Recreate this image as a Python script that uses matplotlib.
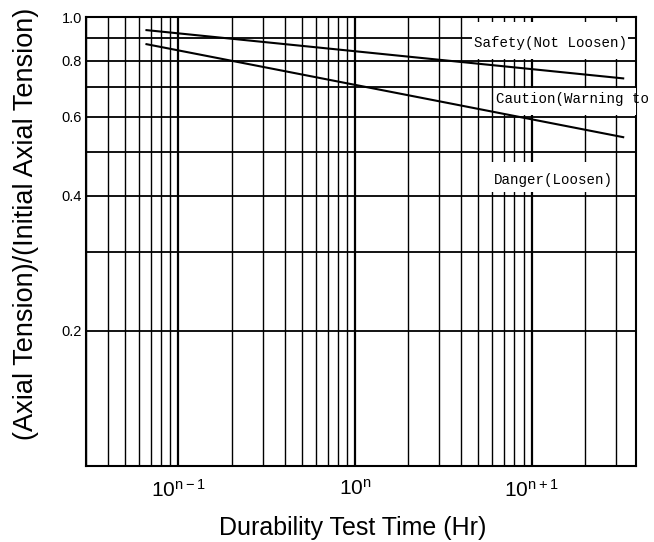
import numpy as np
import matplotlib
matplotlib.use("Agg")
import matplotlib.pyplot as plt
import matplotlib.patches as mpatches
from matplotlib.ticker import LogLocator, NullFormatter, NullLocator
from matplotlib.transforms import Bbox, TransformedBbox

plt.rcParams['font.family'] = 'Liberation Sans'
plt.rcParams['mathtext.default'] = 'regular'

# test time in units of 10^n hours
hours = [0.066, 33]
upper_limit = [0.935, 0.73]
lower_limit = [0.87, 0.54]

decades = [0.1, 1, 10]
decade_labels = [r'$10^{n-1}$', r'$10^{n}$', r'$10^{n+1}$']

ratio_grid = [0.2, 0.3, 0.4, 0.5, 0.6, 0.7, 0.8, 0.9, 1.0]
ratio_labels = ['0.2', '', '0.4', '', '0.6', '', '0.8', '', '1.0']

zone_names = ['Safety(Not Loosen)', 'Caution(Warning to Loosen)', 'Danger(Loosen)']
# (text x, text y, box x0, box y0, box x1, box y1) in axes fraction
zone_layout = [
    (0.705, 0.942, 0.702, 0.906, 0.985, 0.989),
    (0.746, 0.817, 0.744, 0.782, 1.02, 0.842),
    (0.741, 0.638, 0.716, 0.610, 0.956, 0.677),
]

fig = plt.figure(figsize=(6.54, 5.42), dpi=100)
ax = fig.add_axes([0.1315, 0.1402, 0.841, 0.8284])

ax.set_xscale('log')
ax.set_yscale('log')
ax.set_xlim(0.03, 39)
ax.set_ylim(0.1, 1.0)

ax.set_xticks(decades, labels=decade_labels, fontsize=15)
ax.xaxis.set_minor_locator(LogLocator(base=10, subs=np.arange(2, 10)))
ax.xaxis.set_minor_formatter(NullFormatter())
ax.set_yticks(ratio_grid, labels=ratio_labels, fontsize=10.5)
ax.yaxis.set_minor_locator(NullLocator())
ax.tick_params(which='both', length=0)
ax.tick_params(axis='x', pad=9)
ax.tick_params(axis='y', pad=3)

ax.grid(True, which='major', axis='x', color='k', lw=1.6)
ax.grid(True, which='minor', axis='x', color='k', lw=1.0)
ax.grid(True, which='major', axis='y', color='k', lw=1.3)
for sp in ax.spines.values():
    sp.set_linewidth(1.5)

ax.plot(hours, upper_limit, color='k', lw=1.5, zorder=6)
ax.plot(hours, lower_limit, color='k', lw=1.5, zorder=6)

# zone captions sit on white boxes, allowed a little past the right edge
clip = TransformedBbox(Bbox([[0, 0], [1.011, 1]]), ax.transAxes)
for name, (tx, ty, x0, y0, x1, y1) in zip(zone_names, zone_layout):
    box = mpatches.Rectangle((x0, y0), x1 - x0, y1 - y0, transform=ax.transAxes,
                             facecolor='white', edgecolor='none', zorder=4)
    box.set_clip_box(clip)
    ax.add_patch(box)
    t = ax.text(tx, ty, name, transform=ax.transAxes, family='Liberation Mono',
                fontsize=10.2, va='center', ha='left', zorder=5)
    t.set_clip_box(clip)

fig.text(0.04, 0.587, '(Axial Tension)/(Initial Axial Tension)', rotation=90,
         ha='center', va='center', fontsize=19.5)
fig.text(0.54, 0.013, 'Durability Test Time (Hr)', ha='center', va='baseline',
         fontsize=18)

fig.savefig('out.png', dpi=100)
